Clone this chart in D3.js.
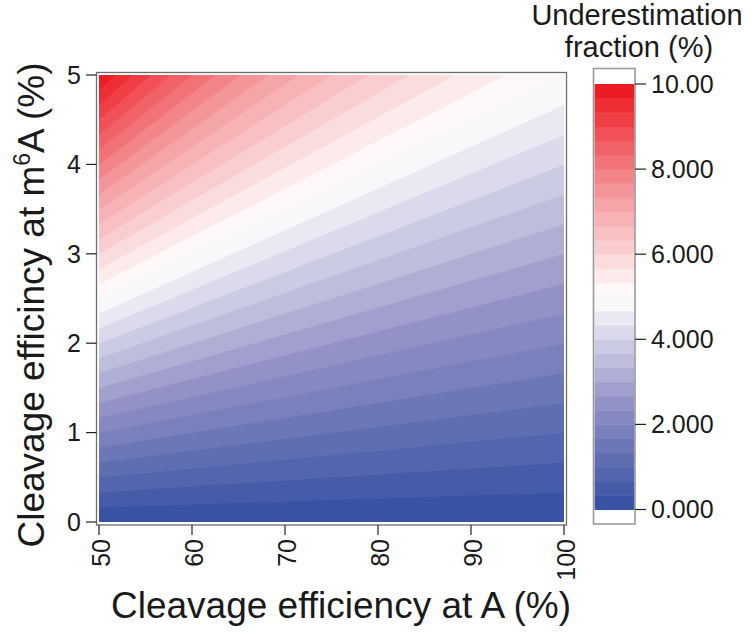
<!DOCTYPE html>
<html>
<head>
<meta charset="utf-8">
<script src="https://cdn.jsdelivr.net/npm/d3@7"></script>
<style>
  body { margin: 0; background: #fff; }
  text { font-family: "Liberation Sans", Arial, sans-serif; fill: #1a1a1a; }
</style>
</head>
<body>
<svg id="chart" width="751" height="634"></svg>
<script>
// axis ranges and ticks
const xDomain = [50, 100];
const yDomain = [0, 5];
const xTicks = [50, 60, 70, 80, 90, 100];
const yTicks = [0, 1, 2, 3, 4, 5];

// contour levels of the underestimation fraction (%)
const zLevels = [0, 0.333, 0.667, 1, 1.333, 1.667, 2, 2.333, 2.667, 3, 3.333, 3.667,
  4, 4.333, 4.667, 5, 5.333, 5.667, 6, 6.333, 6.667, 7, 7.333, 7.667,
  8, 8.333, 8.667, 9, 9.333, 9.667, 10];
const barTicks = [0, 2, 4, 6, 8, 10];
const barTickLabels = ["0.000", "2.000", "4.000", "6.000", "8.000", "10.00"];

// colour stops along the fraction
const colorStops = [0, 2.5, 5, 7.5, 10];
const colorRange = ["#3953a4", "#9694c7", "#ffffff", "#f49a9d", "#ed1c24"];

const svg = d3.select("#chart");

const x = d3.scaleLinear().domain(xDomain).range([99, 564]);
const y = d3.scaleLinear().domain(yDomain).range([522, 75]);
const color = d3.scaleLinear().domain(colorStops).range(colorRange);

// band colour: first band pure blue, last pure red
function bandColor(i) {
    return color(i / (zLevels.length - 2) * 10);
}

// underestimation fraction = m6A cleavage / A cleavage
const nx = 240, ny = 240;
const grid = new Array(nx * ny);
for (let j = 0; j < ny; j++) {
    for (let i = 0; i < nx; i++) {
        let a = xDomain[0] + (i + 0.5) * (xDomain[1] - xDomain[0]) / nx;
        let m = yDomain[0] + (j + 0.5) * (yDomain[1] - yDomain[0]) / ny;
        grid[j * nx + i] = 100 * m / a;
    }
}

const contours = d3.contours()
    .size([nx, ny])
    .thresholds(zLevels.slice(0, -1))(grid);

const toScreen = d3.geoTransform({
    point: function(gx, gy) {
        let a = xDomain[0] + gx * (xDomain[1] - xDomain[0]) / nx;
        let m = yDomain[0] + gy * (yDomain[1] - yDomain[0]) / ny;
        this.stream.point(x(a), y(m));
    }
});
const path = d3.geoPath(toScreen);

svg.append("defs").append("clipPath").attr("id", "plotclip")
    .append("rect")
    .attr("x", x(50)).attr("y", y(5))
    .attr("width", x(100) - x(50)).attr("height", y(0) - y(5));

svg.append("g")
    .attr("clip-path", "url(#plotclip)")
    .selectAll("path")
    .data(contours)
    .join("path")
    .attr("d", path)
    .attr("fill", (d, i) => bandColor(i))
    .attr("stroke", (d, i) => bandColor(i))
    .attr("stroke-width", 0.6);

// frame
svg.append("rect")
    .attr("x", 96.5).attr("y", 72.5)
    .attr("width", 470).attr("height", 452.5)
    .attr("fill", "none")
    .attr("stroke", "#6e6e6e")
    .attr("stroke-width", 1.3);

// y axis
const gy = svg.append("g");
gy.selectAll("line")
    .data(yTicks)
    .join("line")
    .attr("x1", 86).attr("x2", 96.5)
    .attr("y1", d => y(d)).attr("y2", d => y(d))
    .attr("stroke", "#222").attr("stroke-width", 1.2);
gy.selectAll("text")
    .data(yTicks)
    .join("text")
    .attr("x", 81).attr("y", d => y(d))
    .attr("dy", "0.35em")
    .attr("text-anchor", "end")
    .attr("font-size", 25)
    .text(d => d);

// x axis
const gx = svg.append("g");
gx.selectAll("line")
    .data(xTicks)
    .join("line")
    .attr("x1", d => x(d)).attr("x2", d => x(d))
    .attr("y1", 525).attr("y2", 535)
    .attr("stroke", "#222").attr("stroke-width", 1.2);
gx.selectAll("text")
    .data(xTicks)
    .join("text")
    .attr("transform", d => `translate(${x(d) + 2},539) rotate(-90)`)
    .attr("dy", "0.35em")
    .attr("text-anchor", "end")
    .attr("font-size", 25)
    .text(d => d);

// axis titles
svg.append("text")
    .attr("x", 341).attr("y", 618)
    .attr("text-anchor", "middle")
    .attr("font-size", 37)
    .text("Cleavage efficiency at A (%)");

const yt = svg.append("text")
    .attr("transform", "translate(44,305) rotate(-90)")
    .attr("text-anchor", "middle")
    .attr("font-size", 37);
yt.append("tspan").text("Cleavage efficincy at m");
yt.append("tspan").attr("font-size", 23).attr("dy", -14).text("6");
yt.append("tspan").attr("dy", 14).text("A (%)");

// colour bar
const cb = d3.scaleLinear().domain([0, 10]).range([509.5, 84]);
const bar = svg.append("g");
bar.selectAll("rect")
    .data(d3.pairs(zLevels))
    .join("rect")
    .attr("x", 594.5).attr("width", 40)
    .attr("y", d => cb(d[1]))
    .attr("height", d => cb(d[0]) - cb(d[1]) + 0.5)
    .attr("fill", (d, i) => bandColor(i));
bar.append("rect")
    .attr("x", 593.5).attr("y", 68.5)
    .attr("width", 41.5).attr("height", 455.5)
    .attr("fill", "none")
    .attr("stroke", "#9a9a9a")
    .attr("stroke-width", 1.6);
bar.selectAll("line")
    .data(barTicks)
    .join("line")
    .attr("x1", 635).attr("x2", 646)
    .attr("y1", d => cb(d)).attr("y2", d => cb(d))
    .attr("stroke", "#222").attr("stroke-width", 1.2);
bar.selectAll("text")
    .data(barTicks)
    .join("text")
    .attr("x", 651).attr("y", d => cb(d))
    .attr("dy", "0.35em")
    .attr("font-size", 25)
    .text((d, i) => barTickLabels[i]);

svg.append("text")
    .attr("x", 637).attr("y", 25)
    .attr("text-anchor", "middle")
    .attr("font-size", 29)
    .text("Underestimation");
svg.append("text")
    .attr("x", 639).attr("y", 57)
    .attr("text-anchor", "middle")
    .attr("font-size", 29)
    .text("fraction (%)");
</script>
</body>
</html>
